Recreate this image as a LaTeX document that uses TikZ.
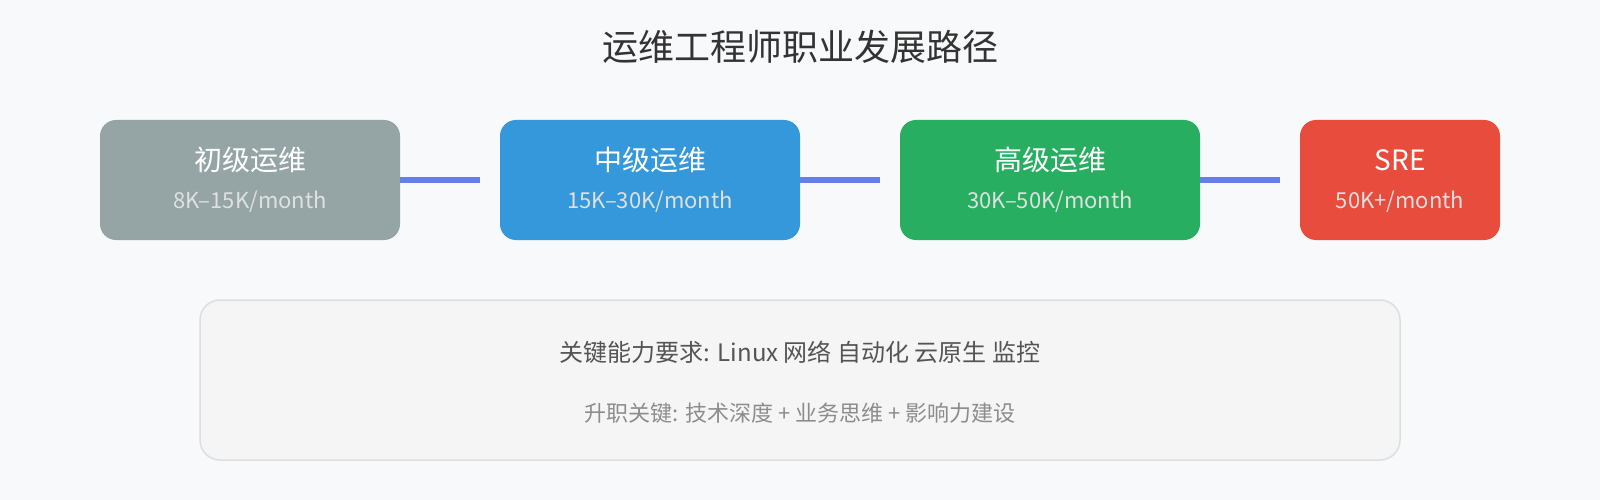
\documentclass[tikz,border=0pt]{standalone}
\usepackage{fontspec}
\setmainfont{Noto Sans CJK SC}
\usetikzlibrary{positioning}
\definecolor{sfondo}{HTML}{F8F9FB}
\definecolor{grigio}{HTML}{95A5A6}
\definecolor{blu}{HTML}{3498DB}
\definecolor{verde}{HTML}{27AE60}
\definecolor{rosso}{HTML}{E74C3C}
\definecolor{linea}{HTML}{667EEA}
\definecolor{scuro}{HTML}{333333}

\begin{document}
\begin{tikzpicture}[x=1pt,y=-1pt,
	livello/.style={rounded corners=16pt,minimum width=300pt,minimum height=120pt,inner sep=0pt},
	nome/.style={white,font=\fontsize{28}{32}\selectfont},
	paga/.style={white!88!black,font=\fontsize{22}{26}\selectfont},
	conn/.style={linea,line width=6pt,shorten >=20pt}]
\useasboundingbox[fill=sfondo] (0,0) rectangle (1600,500);
%titolo
\node[scuro,font=\fontsize{36}{40}\selectfont] (T) at (800,47){运维工程师职业发展路径};

%livelli
\node[livello,fill=grigio] (A) at (250,180){};
\node[livello,fill=blu] (B) at (650,180){};
\node[livello,fill=verde] (C) at (1050,180){};
\node[livello,fill=rosso,minimum width=200pt] (D) at (1400,180){};
\node[nome] (A1) at (250,160){初级运维};
\node[paga] (A2) at (250,202){8K–15K/month};
\node[nome] (B1) at (650,160){中级运维};
\node[paga] (B2) at (650,202){15K–30K/month};
\node[nome] (C1) at (1050,160){高级运维};
\node[paga] (C2) at (1050,202){30K–50K/month};
\node[nome] (D1) at (1400,160){SRE};
\node[paga] (D2) at (1400,202){50K+/month};
\draw[conn] (A.east) -- (B.west);
\draw[conn] (B.east) -- (C.west);
\draw[conn] (C.east) -- (D.west);

%requisiti
\node[fill=black!4,draw=black!13,line width=1.5pt,rounded corners=20pt,minimum width=1200pt,minimum height=160pt] (R) at (800,380){};
\node[black!67,font=\fontsize{24}{28}\selectfont] (R1) at (800,352){关键能力要求: Linux 网络 自动化 云原生 监控};
\node[black!45,font=\fontsize{22}{26}\selectfont] (R2) at (800,413){升职关键: 技术深度 + 业务思维 + 影响力建设};
\end{tikzpicture}
\end{document}
